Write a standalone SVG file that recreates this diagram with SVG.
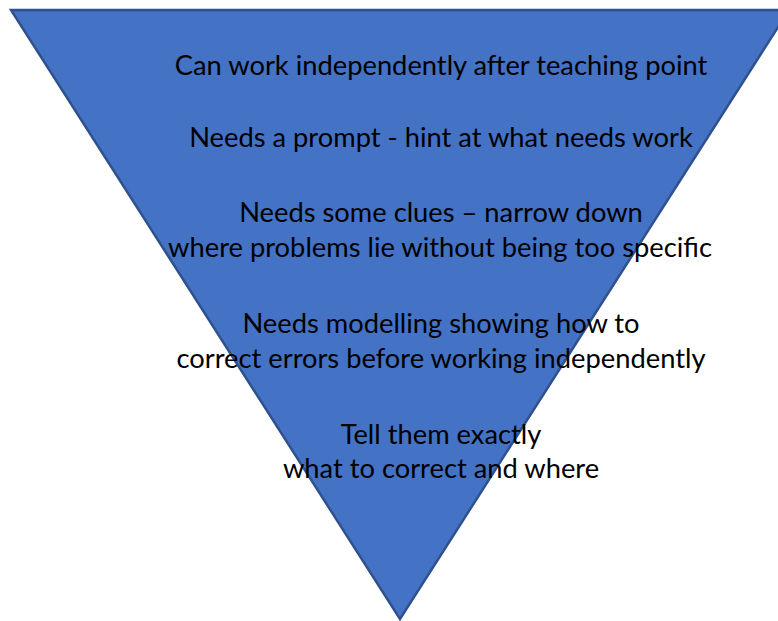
<svg xmlns="http://www.w3.org/2000/svg" width="778" height="621" viewBox="0 0 778 621">
  <style>
    .tri { fill: #4472C4; stroke: #2F528F; stroke-width: 2.5; }
    .lbl { font-family: "Lato", "Open Sans", "Liberation Sans", sans-serif; font-size: 27.3px; fill: #000000; text-anchor: middle; }
  </style>
  <rect width="778" height="621" fill="#ffffff"/>
  <g id="pyramid">
    <polygon class="tri" points="11,10 789,10 400,619"/>
  </g>
  <g id="levels">
    <g id="level1"><text class="lbl" x="441" y="75">Can work independently after teaching point</text></g>
    <g id="level2"><text class="lbl" x="441" y="147">Needs a prompt - hint at what needs work</text></g>
    <g id="level3">
      <text class="lbl" x="441" y="222">Needs some clues – narrow down</text>
      <text class="lbl" x="440" y="257">where problems lie without being too specific</text>
    </g>
    <g id="level4">
      <text class="lbl" x="441" y="333">Needs modelling showing how to</text>
      <text class="lbl" x="441" y="368">correct errors before working independently</text>
    </g>
    <g id="level5">
      <text class="lbl" x="441" y="444">Tell them exactly</text>
      <text class="lbl" x="441" y="478">what to correct and where</text>
    </g>
  </g>
</svg>
